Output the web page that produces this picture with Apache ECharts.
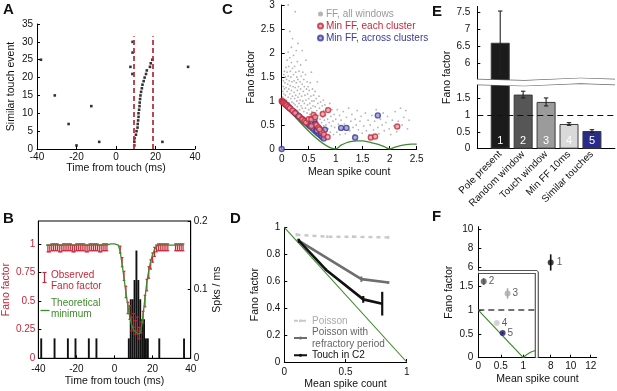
<!DOCTYPE html>
<html><head><meta charset="utf-8">
<script src="https://cdn.jsdelivr.net/npm/echarts@6/dist/echarts.min.js"></script>
<style>html,body{margin:0;padding:0;background:#fff}#c{width:617px;height:391px}</style>
</head><body><div id="c"></div>
<script>
// ---------- Panel A ----------
var aTimes  = [-38,-31,-24,-20,-12.5,-8.5,23.5,36.5, 8.4,8.4,7.3,8.3, 18.4,17.6,17.2,15.6,15.2,14.5,14.0,13.4,13.1,12.7,12.4,12.2,12.0,11.9,11.7,11.4,11.4,11.2,11.0,10.9,10.4,10.1,9.4,9.3,9.3];
var aEvents = [25,15,7,1,12,2,2,23, 30,27,23,21, 25,24,23,22,21,20,19,18,17,16,15,14,13,12,11,10,9,8,7,6,5,4,3,2,1];
var aWindow = [9.2, 18.5];
var aWindowTop = 31.6;

// ---------- Panel B ----------
var bHistT = [-39,-32,-25,-21,-14,-10, 7,8,9,10,11,12,13,14,15,16,17, 23,36];
var bHistH = [0.029,0.029,0.029,0.029,0.029,0.029, 0.029,0.086,0.086,0.114,0.157,0.114,0.086,0.057,0.057,0.029,0.029, 0.029,0.029];
var bTime = [-36,-35,-34,-33,-32,-31,-30,-29,-28,-27,-26,-25,-24,-23,-22,-21,-20,-19,-18,-17,-16,-15,-14,-13,-12,-11,-10,-9,-8,-7,-6,-5,-4,-3,-2,-1,0,1,2,3,4,5,6,7,8,9,10,11,12,13,14,15,16,17,18,19,20,21,22,23,24,25,26,27,28,29,30,31,32,33,34,35,36];
var bMinFF = [0.99,0.99,0.99,0.99,0.99,0.99,0.99,0.99,0.99,0.99,0.99,0.99,0.99,0.99,0.99,0.99,0.99,0.99,0.99,0.99,0.99,0.99,0.99,0.99,0.99,0.99,0.99,0.99,0.99,0.99,0.99,0.99,0.99,
  1.0,1.0,1.0,1.0,1.0,0.99,
  0.93,0.82,0.70,0.57,0.46,0.36,0.29,0.25,0.23,0.22,0.21,0.25,0.38,0.53,0.67,0.77,0.85,0.91,0.95,0.98,0.99,
  0.99,0.99,0.99,0.99,0.99,0.99,0.99,0.99,0.99,0.99,0.99,0.99,0.99];
var bObsFF = [null,0.96,0.96,0.97,0.97,0.97,0.97,0.96,0.96,0.97,0.97,0.97,0.97,0.97,0.96,0.96,0.97,0.97,0.97,0.97,0.97,0.96,0.96,0.97,0.97,0.97,0.97,0.97,0.96,0.96,0.97,0.97,0.97,
  null,null,null,null,null,null,
  0.95,0.84,0.72,0.58,0.44,0.40,0.30,0.33,0.27,0.30,0.22,0.27,0.36,0.50,0.64,0.75,0.82,0.88,0.93,0.96,0.97,
  0.97,0.97,0.97,0.97,0.97,null,null,null,0.97,0.97,0.97,0.97,0.97];
var bObsErr = [0,0.03,0.03,0.03,0.03,0.03,0.03,0.03,0.03,0.03,0.03,0.03,0.03,0.03,0.03,0.03,0.03,0.03,0.03,0.03,0.03,0.03,0.03,0.03,0.03,0.03,0.03,0.03,0.03,0.03,0.03,0.03,0.03,
  0,0,0,0,0,0,
  0.03,0.04,0.04,0.05,0.05,0.06,0.06,0.06,0.06,0.06,0.05,0.05,0.05,0.05,0.05,0.05,0.04,0.04,0.04,0.03,0.03,
  0.03,0.03,0.03,0.03,0.03,0,0,0,0.03,0.03,0.03,0.03,0.03];

// ---------- Panel C ----------
var cAllWindows = [
[0.01,1.02],[0.02,1.08],[0.02,1.2],[0.03,1.3],[0.03,1.42],[0.04,1.15],[0.04,1.55],[0.05,1.25],[0.05,1.62],[0.06,1.04],[0.06,1.38],[0.07,1.5],[0.07,1.12],[0.08,1.7],[0.08,1.28],[0.09,1.02],[0.09,1.45],[0.1,1.85],[0.1,1.2],[0.1,1.6],
[0.11,0.95],[0.11,1.35],[0.12,1.08],[0.12,1.52],[0.12,2.02],[0.12,3.0],[0.13,1.25],[0.13,1.72],[0.14,0.96],[0.14,1.42],[0.15,1.15],[0.15,1.9],[0.15,2.45],[0.16,1.32],[0.16,1.62],[0.17,0.9],[0.17,1.05],[0.17,1.5],[0.18,1.22],[0.18,1.8],[0.18,2.12],[0.19,1.4],[0.19,0.98],[0.2,1.68],[0.2,1.1],[0.2,2.3],
[0.21,0.84],[0.21,1.3],[0.22,1.55],[0.22,0.95],[0.22,1.95],[0.23,1.18],[0.23,1.42],[0.24,0.82],[0.24,1.05],[0.24,1.72],[0.25,1.28],[0.25,2.86],[0.25,0.92],[0.26,1.6],[0.26,1.12],[0.27,0.8],[0.27,1.38],[0.27,2.05],[0.28,1.0],[0.28,1.5],[0.29,0.88],[0.29,1.22],[0.29,1.82],[0.3,1.08],[0.3,1.45],[0.3,2.2],
[0.31,0.74],[0.31,1.3],[0.32,0.95],[0.32,1.62],[0.33,1.15],[0.33,0.82],[0.34,1.4],[0.34,1.02],[0.35,0.72],[0.35,1.25],[0.35,1.75],[0.36,0.9],[0.36,1.52],[0.37,1.1],[0.37,0.7],[0.38,1.35],[0.38,2.05],[0.38,0.85],[0.39,1.0],[0.39,1.6],[0.4,1.2],[0.4,0.66],
[0.41,0.78],[0.41,1.45],[0.42,0.95],[0.42,1.3],[0.43,0.64],[0.43,1.12],[0.44,0.85],[0.44,1.55],[0.45,1.02],[0.45,1.85],[0.46,0.6],[0.46,1.25],[0.47,0.75],[0.47,1.4],[0.48,0.92],[0.48,1.15],[0.49,0.56],[0.49,1.3],[0.5,0.82],[0.5,1.05],
[0.51,0.6],[0.51,1.22],[0.52,0.72],[0.52,0.95],[0.53,1.38],[0.53,0.52],[0.54,0.85],[0.54,1.1],[0.55,0.65],[0.55,1.6],[0.56,1.0],[0.56,0.78],[0.57,0.5],[0.57,1.25],[0.58,0.9],[0.58,0.62],[0.59,1.12],[0.6,0.75],[0.6,0.45],[0.6,1.0],
[0.61,0.55],[0.62,0.88],[0.62,1.2],[0.63,0.68],[0.64,0.42],[0.64,1.05],[0.65,0.8],[0.66,0.58],[0.66,1.4],[0.67,0.95],[0.68,0.38],[0.68,0.7],[0.69,1.1],[0.7,0.5],[0.7,0.85],[0.71,0.62],[0.72,0.98],[0.73,0.4],[0.73,0.75],[0.74,0.55],[0.75,0.9],[0.76,0.34],[0.76,0.66],[0.77,1.02],[0.78,0.48],[0.78,0.8],[0.79,0.6],[0.8,0.36],[0.8,0.92],
[0.81,0.7],[0.82,0.5],[0.83,0.85],[0.84,0.3],[0.85,0.62],[0.86,0.42],[0.87,0.78],[0.88,0.55],[0.89,0.95],[0.9,0.35],[0.91,0.68],[0.92,0.48],[0.93,0.82],[0.95,0.58],[0.96,0.3],[0.97,0.72],[0.98,0.45],[1.0,0.62],
[1.02,0.35],[1.03,0.82],[1.05,0.52],[1.07,0.7],[1.08,0.3],[1.1,0.6],[1.12,0.42],[1.14,0.78],[1.16,0.52],[1.18,0.32],[1.2,0.66],[1.22,0.48],[1.24,0.85],[1.26,0.38],[1.28,0.58],[1.3,0.72],[1.32,0.45],[1.34,0.3],[1.36,0.62],[1.38,0.5],[1.4,0.8],[1.42,0.4],[1.45,0.58],[1.47,0.68],[1.49,0.33],
[1.52,0.48],[1.55,0.75],[1.57,0.38],[1.6,0.6],[1.62,0.3],[1.64,0.5],[1.67,0.7],[1.7,0.4],[1.72,0.58],[1.75,0.82],[1.78,0.45],[1.8,0.32],[1.83,0.62],[1.86,0.5],[1.88,0.75],[1.9,0.38],[1.93,0.55],[1.96,0.68],[1.99,0.42],[2.02,0.3],[2.05,0.6],[2.08,0.48],[2.1,0.78],[2.13,0.36],[2.16,0.58],[2.2,0.85],[2.23,0.5],[2.26,0.66],[2.3,0.8],[2.33,0.42],[2.36,0.6]
];
var cClusterMin = [[0,1],[0.01,0.99],[0.02,0.98],[0.03,0.97],[0.05,0.95],[0.07,0.93],[0.09,0.91],[0.12,0.88],[0.15,0.85],[0.2,0.8],[0.25,0.75],[0.32,0.68],[0.38,0.62],[0.42,0.58],[0.45,0.55],
  [0.5,0.62],[0.55,0.62],[0.59,0.71],[0.62,0.66],[0.76,0.73],[0.86,0.81],[0.64,0.5],[0.68,0.45],[0.74,0.36],[0.78,0.3],[0.85,0.25],[0.55,0.48],[0.7,0.41],[1.65,0.24],[1.73,0.26],[2.14,0.47]];
var cAcrossMin = [[0,0],[0.05,0.96],[0.08,0.92],[0.1,0.9],[0.13,0.87],[0.16,0.84],[0.2,0.8],[0.23,0.77],[0.26,0.74],[0.3,0.7],[0.33,0.67],[0.37,0.63],[0.4,0.6],[0.43,0.57],[0.47,0.53],[0.5,0.5],[0.53,0.47],[0.57,0.43],[0.6,0.4],[0.63,0.37],[0.66,0.34],[0.69,0.31],[0.72,0.28],[0.75,0.25],[0.78,0.22],
  [0.65,0.38],[0.7,0.42],[0.73,0.33],[0.8,0.4],[0.6,0.6],[0.62,0.52],[1.1,0.44],[1.2,0.44],[1.36,0.24],[1.78,0.7]];
var cTheory = [[0,1],[1,0],[1.1,0.08],[1.2,0.13],[1.3,0.16],[1.4,0.17],[1.5,0.17],[1.6,0.15],[1.7,0.12],[1.8,0.09],[1.9,0.05],[2,0],[2.1,0.04],[2.2,0.07],[2.3,0.09],[2.4,0.1],[2.5,0.1]];

// ---------- Panel D ----------
var dTheory = [[0,1],[1,0]];
var dPoissonX = [0.1,0.35,0.56,0.85], dPoissonY = [0.945,0.93,0.93,0.925], dPoissonE = [0.012,0.01,0.01,0.012];
var dRefrX = [0.11,0.63,0.85], dRefrY = [0.905,0.615,0.59], dRefrE = [0.01,0.02,0.01];
var dTouchX = [0.12,0.34,0.645,0.8], dTouchY = [0.9,0.685,0.465,0.433], dTouchE = [0.015,0.01,0.025,0.088];

// ---------- Panel E ----------
var eNames = ['Pole present','Random window','Touch window','Min FF 10ms','Similar touches'];
var eVals = [6.6,1.62,1.4,0.74,0.53];
var eErr = [0.95,0.1,0.12,0.04,0.04];
var eNums = ['1','2','3','4','5'];
var eColors = ['#1b1b1b','#565656','#9b9b9b','#d9d9d9','#2a2a88'];
var eTicks = [0,0.5,1,1.5,6,6.5,7,7.5];

// ---------- Panel F ----------
var fLowX = [0.12,0.65,0.41,0.54], fLowY = [1.6,1.35,0.73,0.52], fLowE = [0.07,0.11,0.02,0.02], fLowLab = ['2','3','4','5'];
var fLowColors = ['#555555','#aaaaaa','#cccccc','#1c1c66'];
var fHighX = [8], fHighY = [6.55], fHighE = [0.85], fHighLab = ['1'];
var fTheory = [[0,1],[1,0],[1.05,0.045],[1.1,0.08],[1.15,0.11],[1.2,0.13],[1.25,0.145],[1.3,0.155]];
var fXMax = 1.3, fYMax = 1.8;

var FONT = 'Liberation Sans, Arial, sans-serif';
function merge(a, b) {
  var o = {};
  for (var k in a) o[k] = a[k];
  for (var k2 in b) {
    if (b[k2] && typeof b[k2] === 'object' && !Array.isArray(b[k2]) && o[k2] && typeof o[k2] === 'object') o[k2] = merge(o[k2], b[k2]);
    else o[k2] = b[k2];
  }
  return o;
}
function axis(extra) {
  return merge({
    type: 'value',
    axisLine: {show: true, onZero: false, lineStyle: {color: '#000', width: 1}},
    axisTick: {show: true, inside: true, length: 3, lineStyle: {color: '#000'}},
    axisLabel: {fontSize: 10, color: '#111', fontFamily: FONT, margin: 4},
    splitLine: {show: false},
    nameLocation: 'middle',
    nameTextStyle: {fontSize: 10.5, color: '#111', fontFamily: FONT}
  }, extra);
}
function errBar(color, cap, lw) {
  return function (params, api) {
    var x = api.value(0), lo = api.value(1), hi = api.value(2);
    var a = api.coord([x, lo]), b = api.coord([x, hi]);
    var st = {stroke: color, lineWidth: lw};
    var ch = [{type: 'line', shape: {x1: a[0], y1: a[1], x2: b[0], y2: b[1]}, style: st}];
    if (cap > 0) {
      ch.push({type: 'line', shape: {x1: a[0] - cap, y1: a[1], x2: a[0] + cap, y2: a[1]}, style: st});
      ch.push({type: 'line', shape: {x1: b[0] - cap, y1: b[1], x2: b[0] + cap, y2: b[1]}, style: st});
    }
    return {type: 'group', children: ch};
  };
}
function errData(xs, ys, es) {
  var out = [];
  for (var i = 0; i < xs.length; i++) if (ys[i] != null) out.push([xs[i], ys[i] - es[i], ys[i] + es[i]]);
  return out;
}
function pairs(xs, ys) { return xs.map(function (x, i) { return [x, ys[i]]; }); }

var RED = '#c4283a', GREEN = '#3f8a2e', BLUE = '#3a3a9c';

var grids = [
  {left: 37, top: 24, width: 158, height: 125},            // A
  {left: 33.3, top: 221, width: 157.4, height: 137.3, show: true, borderColor: '#000', borderWidth: 1}, // B
  {left: 281.7, top: 5, width: 135, height: 144},         // C
  {left: 284.3, top: 227.3, width: 122.4, height: 136},   // D
  {left: 477.3, top: 6, width: 139.7, height: 142.7},     // E
  {left: 478.3, top: 272, width: 58.5, height: 85.7},     // F low
  {left: 536.7, top: 226.7, width: 60, height: 44.8},     // F high
  {left: 478.3, top: 226.7, width: 118.4, height: 131}    // F names
];

var xAxes = [
  axis({gridIndex: 0, min: -40, max: 40, interval: 20, name: 'Time from touch (ms)', nameGap: 13, axisLabel: {margin: 3}}),
  axis({gridIndex: 1, min: -40, max: 40, interval: 20, name: 'Time from touch (ms)', nameGap: 17, axisLabel: {margin: 6}}),
  axis({gridIndex: 2, min: 0, max: 2.5, interval: 0.5, name: 'Mean spike count', nameGap: 18, axisLabel: {margin: 5}}),
  axis({gridIndex: 3, min: 0, max: 1, interval: 0.5, name: 'Mean spike count', nameGap: 17, axisLabel: {margin: 5}}),
  axis({gridIndex: 4, type: 'category', data: [''].concat(eNames, ['']), boundaryGap: false,
        axisTick: {show: false}, axisLabel: {rotate: 45, interval: 0, margin: 4}}),
  axis({gridIndex: 5, min: 0, max: fXMax, axisLabel: {customValues: [0, 0.5, 1]}, axisTick: {customValues: [0, 0.5, 1]}}),
  axis({gridIndex: 6, min: 6.6, max: 12.6, offset: 86.2, position: 'bottom', axisLabel: {customValues: [8, 10, 12]}, axisTick: {customValues: [8, 10, 12]}}),
  axis({gridIndex: 7, min: 0, max: 1, axisLine: {show: false}, axisTick: {show: false}, axisLabel: {show: false}, name: 'Mean spike count', nameGap: 16})
];
var yAxes = [
  axis({gridIndex: 0, min: 0, max: 35, interval: 5, name: 'Similar touch event', nameGap: 20}),
  axis({gridIndex: 1, min: 0, max: 1.2, name: 'Fano factor', nameGap: 24, axisLine: {lineStyle: {color: '#000'}},
        axisLabel: {color: RED, margin: 3, customValues: [0, 0.25, 0.5, 0.75, 1]}, axisTick: {customValues: [0, 0.25, 0.5, 0.75, 1]},
        nameTextStyle: {color: RED}}),
  axis({gridIndex: 1, position: 'right', min: 0, max: 0.2, interval: 0.1, name: 'Spks / ms', nameGap: 18, axisLabel: {margin: 3}}),
  axis({gridIndex: 2, min: 0, max: 3, interval: 0.5, name: 'Fano factor', nameGap: 24, axisLabel: {margin: 7}}),
  axis({gridIndex: 3, min: 0, max: 1, interval: 0.2, name: 'Fano factor', nameGap: 24}),
  axis({gridIndex: 4, min: 0, max: 7.7, name: 'Fano factor', nameGap: 22,
        axisLabel: {margin: 7, customValues: eTicks}, axisTick: {customValues: eTicks},
        breaks: [{start: 1.92, end: 5.52, gap: '4%'}],
        breakArea: {show: true, itemStyle: {color: '#fff', borderColor: '#666', borderWidth: 1.3, borderType: 'solid', opacity: 1},
                    zigzagAmplitude: 1.2, zigzagMinSpan: 30, zigzagMaxSpan: 60, expandOnClick: false}}),
  axis({gridIndex: 5, min: 0, max: fYMax, axisLabel: {customValues: [0, 0.5, 1, 1.5], margin: 5}, axisTick: {customValues: [0, 0.5, 1, 1.5]}}),
  axis({gridIndex: 6, min: 5.6, max: 10.3, offset: 58.4, axisLabel: {customValues: [6, 8, 10], margin: 5}, axisTick: {customValues: [6, 8, 10]}}),
  axis({gridIndex: 7, min: 0, max: 1, axisLine: {show: false}, axisTick: {show: false}, axisLabel: {show: false}, name: 'Fano factor', nameGap: 24})
];

var series = [];
// A
series.push({type: 'scatter', xAxisIndex: 0, yAxisIndex: 0, symbol: 'rect', symbolSize: 2.6, itemStyle: {color: '#000'},
  data: pairs(aTimes, aEvents),
  markLine: {silent: true, symbol: 'none', label: {show: false}, lineStyle: {color: '#b8323f', type: [5, 3], width: 1.8},
    data: aWindow.map(function (t) { return [{coord: [t, 0]}, {coord: [t, aWindowTop]}]; })}});
// B histogram
series.push({type: 'custom', xAxisIndex: 1, yAxisIndex: 2, data: pairs(bHistT, bHistH), encode: {x: 0, y: 1},
  renderItem: function (params, api) {
    var t = api.value(0), h = api.value(1);
    var p0 = api.coord([t, h]), p1 = api.coord([t + 1, 0]);
    return {type: 'rect', shape: {x: p0[0], y: p0[1], width: Math.max(1.2, p1[0] - p0[0]), height: p1[1] - p0[1]}, style: {fill: '#111'}};
  }});
// B observed FF error bars
series.push({type: 'custom', xAxisIndex: 1, yAxisIndex: 1, data: errData(bTime, bObsFF, bObsErr), encode: {x: 0, y: [1, 2]},
  renderItem: errBar(RED, 1.3, 1.2), z: 3});
// B theoretical min
series.push({type: 'line', xAxisIndex: 1, yAxisIndex: 1, data: pairs(bTime, bMinFF), symbol: 'none',
  lineStyle: {color: GREEN, width: 1.3}, z: 4});

// C
series.push({type: 'line', xAxisIndex: 2, yAxisIndex: 3, data: cTheory, symbol: 'none', smooth: 0.3,
  lineStyle: {color: GREEN, width: 1.3}, z: 1});
series.push({name: 'FF, all windows', type: 'scatter', xAxisIndex: 2, yAxisIndex: 3, data: cAllWindows,
  symbolSize: 1.8, itemStyle: {color: '#a3a3a3'}, z: 2});
series.push({name: 'Min FF, each cluster', type: 'scatter', xAxisIndex: 2, yAxisIndex: 3, data: cClusterMin,
  symbolSize: 5, itemStyle: {color: '#e6a0a6', borderColor: '#c4283a', borderWidth: 1.4}, z: 4});
series.push({name: 'Min FF, across clusters', type: 'scatter', xAxisIndex: 2, yAxisIndex: 3, data: cAcrossMin,
  symbolSize: 5, itemStyle: {color: '#9a9ad0', borderColor: '#3a3a9c', borderWidth: 1.4}, z: 3});

// D
series.push({type: 'line', xAxisIndex: 3, yAxisIndex: 4, data: dTheory, symbol: 'none', lineStyle: {color: GREEN, width: 1.1}, z: 1});
series.push({name: 'Poisson', type: 'line', xAxisIndex: 3, yAxisIndex: 4, data: pairs(dPoissonX, dPoissonY), symbol: 'none',
  lineStyle: {color: '#c9c9c9', width: 2.4, type: [4, 4]}, itemStyle: {color: '#c9c9c9'}, z: 2});
series.push({type: 'custom', xAxisIndex: 3, yAxisIndex: 4, data: errData(dPoissonX, dPoissonY, dPoissonE), encode: {x: 0, y: [1, 2]}, renderItem: errBar('#c9c9c9', 0, 2), z: 2});
series.push({name: 'Poisson with\nrefractory period', type: 'line', xAxisIndex: 3, yAxisIndex: 4, data: pairs(dRefrX, dRefrY), symbol: 'none',
  lineStyle: {color: '#6e6e6e', width: 2.6}, itemStyle: {color: '#6e6e6e'}, z: 3});
series.push({type: 'custom', xAxisIndex: 3, yAxisIndex: 4, data: errData(dRefrX, dRefrY, dRefrE), encode: {x: 0, y: [1, 2]}, renderItem: errBar('#6e6e6e', 0, 2), z: 3});
series.push({name: 'Touch in C2', type: 'line', xAxisIndex: 3, yAxisIndex: 4, data: pairs(dTouchX, dTouchY), symbol: 'none',
  lineStyle: {color: '#111', width: 2.6}, itemStyle: {color: '#111'}, z: 4});
series.push({type: 'custom', xAxisIndex: 3, yAxisIndex: 4, data: errData(dTouchX, dTouchY, dTouchE), encode: {x: 0, y: [1, 2]}, renderItem: errBar('#111', 0, 2.2), z: 4});

// E
var eBarData = ['-'].concat(eVals.map(function (v, i) {
  return {value: v, itemStyle: {color: eColors[i]}};
}), ['-']);
series.push({type: 'bar', xAxisIndex: 4, yAxisIndex: 5, data: eBarData, barWidth: 19,
  itemStyle: {borderColor: '#3a3a3a', borderWidth: 1},
  label: {show: true, position: 'insideBottom', distance: 2, color: '#fff', fontSize: 11, fontFamily: FONT,
    formatter: function (p) { return eNums[p.dataIndex - 1]; }},
  markLine: {silent: true, symbol: 'none', label: {show: false}, lineStyle: {color: '#111', type: [6, 4], width: 1.2}, data: [{yAxis: 1}]},
  z: 2});
series.push({type: 'custom', xAxisIndex: 4, yAxisIndex: 5,
  data: eVals.map(function (v, i) { return [i + 1, v - eErr[i], v + eErr[i]]; }), encode: {x: 0, y: [1, 2]},
  renderItem: errBar('#222', 2.2, 1.1), z: 3});

// F low region
series.push({type: 'line', xAxisIndex: 5, yAxisIndex: 6, data: fTheory, symbol: 'none', lineStyle: {color: GREEN, width: 1.2}, z: 1,
  markLine: {silent: true, symbol: 'none', label: {show: false}, lineStyle: {color: '#444', type: [6, 4], width: 1.6}, data: [{yAxis: 1}]}});
var fBox = [[0, fYMax], [fXMax, fYMax], [fXMax, 0]];
series.push({type: 'line', xAxisIndex: 5, yAxisIndex: 6, data: fBox, symbol: 'none', clip: false, lineStyle: {color: '#555', width: 4.2}, z: 5});
series.push({type: 'line', xAxisIndex: 5, yAxisIndex: 6, data: fBox, symbol: 'none', clip: false, lineStyle: {color: '#fff', width: 1.8}, z: 6});
series.push({type: 'custom', xAxisIndex: 5, yAxisIndex: 6, data: errData(fLowX, fLowY, fLowE), encode: {x: 0, y: [1, 2]},
  renderItem: function (params, api) { return errBar(fLowColors[params.dataIndex], 0, 1.6)(params, api); }, z: 3});
series.push({type: 'scatter', xAxisIndex: 5, yAxisIndex: 6, symbolSize: 6,
  data: fLowX.map(function (x, i) { return {value: [x, fLowY[i]], itemStyle: {color: fLowColors[i]}}; }),
  label: {show: true, position: 'right', distance: 2, fontSize: 10, color: '#333', fontFamily: FONT,
    formatter: function (p) { return fLowLab[p.dataIndex]; }}, z: 4});
// F high region
series.push({type: 'custom', xAxisIndex: 6, yAxisIndex: 7, data: errData(fHighX, fHighY, fHighE), encode: {x: 0, y: [1, 2]},
  renderItem: errBar('#111', 0, 1.6), z: 3});
series.push({type: 'scatter', xAxisIndex: 6, yAxisIndex: 7, symbolSize: 6, itemStyle: {color: '#111'},
  data: pairs(fHighX, fHighY),
  label: {show: true, position: 'right', distance: 3, fontSize: 10, color: '#333', fontFamily: FONT,
    formatter: function (p) { return fHighLab[p.dataIndex]; }}, z: 4});

var legends = [
  {left: 312, top: 3, orient: 'vertical', itemGap: 0, itemWidth: 5, itemHeight: 5, selectedMode: false,
   textStyle: {fontSize: 10, fontFamily: FONT, lineHeight: 12, padding: [0, 0, 0, -2]},
   data: [{name: 'FF, all windows', textStyle: {color: '#9a9a9a'}},
          {name: 'Min FF, each cluster', textStyle: {color: RED}},
          {name: 'Min FF, across clusters', textStyle: {color: BLUE}}]},
  {left: 288, top: 310, orient: 'vertical', itemGap: 0, itemWidth: 13, itemHeight: 4, selectedMode: false,
   textStyle: {fontSize: 10, fontFamily: FONT, lineHeight: 11.5},
   data: [{name: 'Poisson', textStyle: {color: '#aaaaaa'}},
          {name: 'Poisson with\nrefractory period', textStyle: {color: '#666'}},
          {name: 'Touch in C2', textStyle: {color: '#111'}}]}
];

var letters = [['A', 3, 2], ['B', 3, 211], ['C', 222, 2], ['D', 230, 211], ['E', 432, 4], ['F', 432, 209]];
var graphics = letters.map(function (l) {
  return {type: 'text', left: l[1], top: l[2], style: {text: l[0], font: 'bold 15px ' + FONT, fill: '#111'}};
});
// B legend
graphics.push({type: 'group', left: 40, top: 270, children: [
  {type: 'line', shape: {x1: 3, y1: 1, x2: 3, y2: 11}, style: {stroke: RED, lineWidth: 1.2}},
  {type: 'line', shape: {x1: 1, y1: 1, x2: 5, y2: 1}, style: {stroke: RED, lineWidth: 1.2}},
  {type: 'line', shape: {x1: 1, y1: 11, x2: 5, y2: 11}, style: {stroke: RED, lineWidth: 1.2}}
]});
graphics.push({type: 'text', left: 51, top: 269, style: {text: 'Observed\nFano factor', font: '10px ' + FONT, fill: RED, lineHeight: 11.5}});
graphics.push({type: 'group', left: 38, top: 308, children: [
  {type: 'line', shape: {x1: 0, y1: 0, x2: 9, y2: 0}, style: {stroke: GREEN, lineWidth: 1.3}}
]});
graphics.push({type: 'text', left: 51, top: 297, style: {text: 'Theoretical\nminimum', font: '10px ' + FONT, fill: GREEN, lineHeight: 11.5}});

var chart = echarts.init(document.getElementById('c'), null, {renderer: 'canvas'});
chart.setOption({
  animation: false,
  backgroundColor: '#fff',
  textStyle: {fontFamily: FONT},
  grid: grids,
  xAxis: xAxes,
  yAxis: yAxes,
  legend: legends,
  series: series,
  graphic: graphics
});
</script></body></html>
